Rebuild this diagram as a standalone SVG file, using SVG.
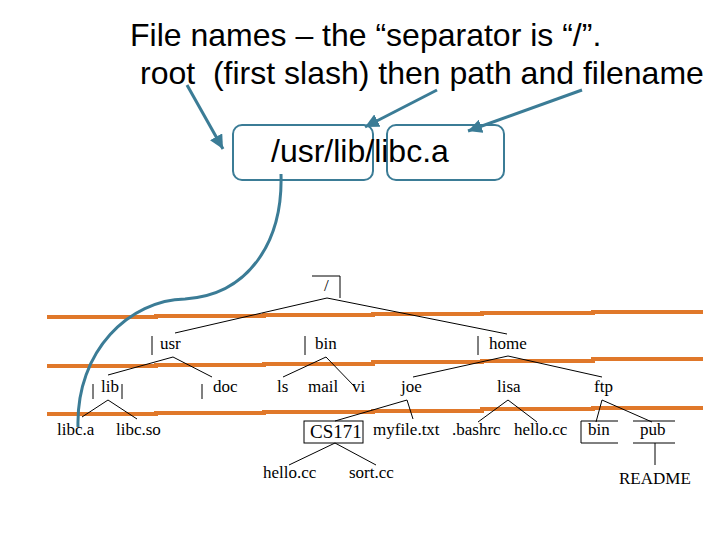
<svg xmlns="http://www.w3.org/2000/svg" width="720" height="540" viewBox="0 0 720 540">
<style>
.title{font-family:"Liberation Sans",Arial,sans-serif;font-size:32px;fill:#000}
.t{font-family:"Liberation Serif","Times New Roman",serif;font-size:17px;fill:#000}
.cs{font-family:"Liberation Serif","Times New Roman",serif;font-size:19px;fill:#000}
.tl{stroke:#000;stroke-width:1;fill:none}
.or{stroke:#E0782A;stroke-width:4;fill:none}
.bl{stroke:#3B7C96;stroke-width:3;fill:none}
.bx{stroke:#3B7C96;stroke-width:2;fill:none}
</style>
<defs>
<marker id="ah" markerUnits="userSpaceOnUse" markerWidth="16" markerHeight="14" refX="14" refY="7" orient="auto">
<path d="M0,0 L14,7 L0,14 Z" fill="#3B7C96"/>
</marker>
</defs>
<rect width="720" height="540" fill="#fff"/>
<g id="title">
<text class="title" x="130" y="46">File names – the “separator is “/”.</text>
<text class="title" x="140" y="84" xml:space="preserve">root  (first slash) then path and filename</text>
</g>
<g id="path-boxes">
<rect class="bx" x="233" y="125" width="140" height="55" rx="9"/>
<rect class="bx" x="387" y="125" width="117" height="55" rx="9"/>
<text class="title" x="271" y="162">/usr/lib/libc.a</text>
</g>
<g id="orange-lines">
<path class="or" d="M47,317 H156 V316 H264 V315 H373 V314 H482 V313 H593 V312 H703"/>
<path class="or" d="M47,366 H156 V365 H264 V364 H373 V362 H482 V361 H593 V359 H703"/>
<path class="or" d="M47,414 H156 V413 H264 V412 H373 V411 H482 V409 H593 V408 H703"/>
</g>
<g id="connectors">
<line class="bl" x1="187" y1="85" x2="223" y2="149" marker-end="url(#ah)"/>
<line class="bl" x1="437" y1="90" x2="365" y2="127" marker-end="url(#ah)"/>
<line class="bl" x1="582" y1="90" x2="468" y2="131" marker-end="url(#ah)"/>
<path class="bl" d="M281,174 C283,240 250,295 185,299 C130,300 76,350 78,427" stroke-width="3.5"/>
<path class="tl" d="M175,333 L327,298 L507,334"/>
<path class="tl" d="M108,375 L173,357 L212,377"/>
<path class="tl" d="M283,377 L326,357 L355,387"/>
<path class="tl" d="M413,377 L508,356 L602,377"/>
<path class="tl" d="M82,417 L108,400 L137,419"/>
<path class="tl" d="M335,421 L407,400 L413,419"/>
<path class="tl" d="M478,422 L508,400 L537,422"/>
<path class="tl" d="M596,422 L602,400 L652,422"/>
<path class="tl" d="M289,465 L335,443 L376,465"/>
<line class="tl" x1="655" y1="443" x2="655" y2="465"/>
</g>
<g id="n-root"><path class="tl" d="M312,276 H340 V298"/><text class="t" x="324" y="291">/</text></g>
<g id="n-usr"><line class="tl" x1="152" y1="336" x2="152" y2="355"/><text class="t" x="160" y="349">usr</text></g>
<g id="n-bin"><line class="tl" x1="305" y1="336" x2="305" y2="355"/><text class="t" x="315" y="349">bin</text></g>
<g id="n-home"><line class="tl" x1="478" y1="336" x2="478" y2="355"/><text class="t" x="489" y="349">home</text></g>
<g id="n-lib"><path class="tl" d="M93,384 V399 M122,384 V399"/><text class="t" x="101" y="392">lib</text></g>
<g id="n-doc"><line class="tl" x1="202" y1="384" x2="202" y2="399"/><text class="t" x="213" y="392">doc</text></g>
<g id="n-ls"><text class="t" x="277" y="392">ls</text></g>
<g id="n-mail"><text class="t" x="308" y="392">mail</text></g>
<g id="n-vi"><text class="t" x="352" y="392">vi</text></g>
<g id="n-joe"><text class="t" x="401" y="392">joe</text></g>
<g id="n-lisa"><text class="t" x="497" y="392">lisa</text></g>
<g id="n-ftp"><text class="t" x="594" y="392">ftp</text></g>
<g id="n-libca"><text class="t" x="57" y="435">libc.a</text></g>
<g id="n-libcso"><text class="t" x="116" y="435">libc.so</text></g>
<g id="n-cs171"><rect class="tl" x="304" y="421" width="59" height="22"/><text class="cs" x="310" y="438">CS171</text></g>
<g id="n-myfile"><text class="t" x="373" y="435">myfile.txt</text></g>
<g id="n-bashrc"><text class="t" x="452" y="435">.bashrc</text></g>
<g id="n-hello1"><text class="t" x="514" y="435">hello.cc</text></g>
<g id="n-bin2"><path class="tl" d="M618,421 H581 V443 H618"/><text class="t" x="588" y="435">bin</text></g>
<g id="n-pub"><path class="tl" d="M633,421 H675 M633,443 H675"/><text class="t" x="640" y="435">pub</text></g>
<g id="n-hello2"><text class="t" x="263" y="478">hello.cc</text></g>
<g id="n-sort"><text class="t" x="349" y="478">sort.cc</text></g>
<g id="n-readme"><text class="t" x="619" y="484">README</text></g>
</svg>
